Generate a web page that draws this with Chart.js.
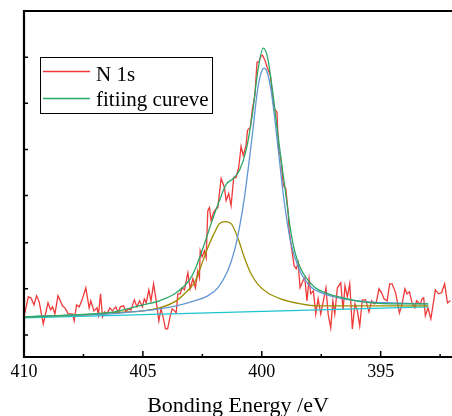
<!DOCTYPE html>
<html>
<head>
<meta charset="utf-8">
<script src="https://cdn.jsdelivr.net/npm/chart.js@4.4.0/dist/chart.umd.min.js"></script>
<style>
  html, body { margin: 0; padding: 0; background: #fff; }
  #wrap { width: 452px; height: 416px; }
</style>
</head>
<body>
<div id="wrap"><canvas id="xpsChart" width="452" height="416"></canvas></div>
<script>
// N 1s raw spectrum (binding energy in eV, intensity in a.u.)
const rawEnergy = [
  410.00, 409.82, 409.71, 409.58, 409.47, 409.36, 409.19, 408.99, 408.88, 408.80,
  408.70, 408.57, 408.38, 408.28, 408.14, 407.96, 407.89, 407.79, 407.68, 407.57,
  407.40, 407.26, 407.19, 407.06, 406.93, 406.87, 406.78, 406.70, 406.60, 406.51,
  406.39, 406.28, 406.14, 406.03, 405.95, 405.81, 405.72, 405.61, 405.50, 405.36,
  405.25, 405.14, 405.02, 404.94, 404.86, 404.75, 404.66, 404.55, 404.44, 404.33,
  404.24, 404.16, 404.05, 403.96, 403.85, 403.77, 403.67, 403.60, 403.53, 403.43,
  403.35, 403.25, 403.11, 403.01, 402.90, 402.79, 402.69, 402.62, 402.59, 402.51,
  402.41, 402.34, 402.27, 402.20, 402.13, 402.03, 401.95, 401.85, 401.71, 401.57,
  401.50, 401.39, 401.29, 401.18, 401.08, 400.97, 400.87, 400.78, 400.66, 400.60,
  400.48, 400.39, 400.29, 400.20, 400.13, 400.03, 399.97, 399.87, 399.76, 399.64,
  399.55, 399.48, 399.36, 399.30, 399.20, 399.09, 398.99, 398.89, 398.85, 398.75,
  398.64, 398.55, 398.47, 398.39, 398.27, 398.19, 398.10, 398.01, 397.94, 397.83,
  397.73, 397.63, 397.52, 397.41, 397.30, 397.21, 397.10, 397.01, 396.93, 396.82,
  396.68, 396.58, 396.50, 396.40, 396.30, 396.19, 396.08, 395.98, 395.88, 395.77,
  395.63, 395.49, 395.38, 395.27, 395.19, 395.07, 394.96, 394.86, 394.73, 394.62,
  394.52, 394.37, 394.21, 394.10, 393.98, 393.89, 393.79, 393.68, 393.56, 393.49,
  393.40, 393.33, 393.26, 393.19, 393.12, 393.01, 392.89, 392.77, 392.70, 392.56,
  392.44, 392.31, 392.19, 392.07
];
const rawCounts = [
  40, 60, 59, 52, 61, 55, 33, 54, 47, 50,
  43, 61, 51, 49, 43, 43, 36, 52, 50, 56,
  69, 49, 56, 46, 49, 42, 63, 40, 45, 43,
  49, 46, 50, 44, 50, 51, 45, 48, 47, 57,
  50, 56, 50, 58, 54, 67, 56, 73, 56, 36,
  48, 41, 28, 28, 41, 48, 46, 44, 63, 63,
  69, 67, 84, 68, 78, 69, 86, 79, 106, 100,
  106, 99, 146, 149, 136, 144, 147, 149, 178, 169,
  156, 163, 151, 179, 179, 189, 210, 201, 211, 226,
  229, 248, 261, 294, 294, 300, 301, 296, 288, 281,
  261, 248, 244, 208, 198, 171, 168, 144, 126, 109,
  91, 88, 94, 69, 76, 79, 56, 78, 63, 66,
  43, 58, 43, 56, 69, 43, 29, 56, 43, 69,
  74, 47, 71, 60, 73, 28, 53, 46, 31, 57,
  57, 45, 56, 53, 54, 68, 64, 58, 56, 73,
  73, 64, 44, 53, 68, 63, 65, 54, 49, 56,
  54, 53, 58, 59, 41, 49, 38, 56, 67, 63,
  64, 73, 54, 56
];

// fitted envelope
const fitEnergy = [410.0, 408.0, 406.2, 405.0, 404.3, 403.6, 403.04, 402.83, 402.41, 402.13,
  401.78, 401.5, 401.2, 400.94, 400.66, 400.39, 400.18, 399.94, 399.76, 399.55,
  399.38, 399.2, 399.01, 398.8, 398.6, 398.36, 397.8, 397.2, 396.57, 396.05, 395.37, 394.5, 393.0];
const fitCounts = [40, 42, 45, 52, 56, 64, 77, 86, 113, 133,
  156, 172, 178, 186, 206, 243, 283, 308, 299, 266,
  233, 199, 166, 128, 104, 88, 70, 63, 59, 56, 54, 53, 53];

// main component (~400 eV)
const peakAEnergy = [410.0, 407.5, 406.4, 405.0, 404.3, 403.6, 402.83, 402.27, 401.85, 401.43,
  401.15, 400.94, 400.73, 400.39, 400.18, 400.03, 399.9, 399.76, 399.61, 399.43,
  399.27, 399.1, 398.78, 398.4, 397.94, 397.38, 396.57, 395.5, 394.5, 393.0];
const peakACounts = [40, 42, 43, 46, 48, 51, 56, 61, 69, 86,
  106, 129, 159, 223, 266, 283, 288, 283, 266, 233,
  199, 163, 114, 86, 70, 63, 58, 55, 54, 53];

// second component (~401.5 eV)
const peakBEnergy = [410.0, 407.5, 406.4, 405.0, 404.3, 403.6, 403.04, 402.83, 402.55, 402.27,
  401.99, 401.78, 401.54, 401.29, 401.01, 400.73, 400.45, 400.18, 399.76, 399.2,
  398.36, 397.63, 395.5, 393.0];
const peakBCounts = [40, 42, 44, 46, 49, 56, 68, 74, 91, 109,
  124, 133, 135, 133, 119, 99, 83, 73, 64, 58,
  53, 51, 51, 51];

// linear background
const baseEnergy = [410.0, 393.0];
const baseCounts = [39, 50];

const xTickValues = [410, 405, 400, 395];
const xMinorValues = [407.5, 402.5, 397.5, 392.5];
const yTickValues = [22, 68, 114, 161, 207, 253, 299];
const legendLabels = ["N 1s", "fitiing cureve"];
const axisTitle = "Bonding Energy /eV";

const RED = "#ef3a3a";
const GREEN = "#2aa866";
const BLUE = "#6196d4";
const OLIVE = "#9a8e00";
const CYAN = "#1cc5cf";
const SERIF = "'Liberation Serif', 'Times New Roman', serif";

function toPoints(xs, ys) {
  return xs.map((x, i) => ({ x, y: ys[i] }));
}

const framePlugin = {
  id: "frame",
  afterDatasetsDraw(chart) {
    const { ctx, chartArea: a, scales: { x, y } } = chart;
    ctx.save();
    ctx.strokeStyle = "#000";
    ctx.lineWidth = 2.2;
    ctx.beginPath();
    ctx.moveTo(a.right + 2, a.top);
    ctx.lineTo(a.left, a.top);
    ctx.lineTo(a.left, a.bottom);
    ctx.lineTo(a.right + 2, a.bottom);
    ctx.stroke();

    ctx.lineWidth = 1.5;
    ctx.beginPath();
    xTickValues.forEach((v) => {
      const px = x.getPixelForValue(v);
      ctx.moveTo(px, a.bottom);
      ctx.lineTo(px, a.bottom - 6);
    });
    xMinorValues.forEach((v) => {
      const px = x.getPixelForValue(v);
      ctx.moveTo(px, a.bottom);
      ctx.lineTo(px, a.bottom - 3);
    });
    yTickValues.forEach((v) => {
      const py = y.getPixelForValue(v);
      ctx.moveTo(a.left, py);
      ctx.lineTo(a.left + 4, py);
    });
    ctx.stroke();

    // legend box
    ctx.fillStyle = "#fff";
    ctx.fillRect(40.5, 57.5, 172, 56);
    ctx.lineWidth = 1;
    ctx.strokeRect(40.5, 57.5, 172, 56);
    const rows = [{ color: RED, y: 71.5, base: 80.5 }, { color: GREEN, y: 98.5, base: 106 }];
    ctx.font = "21px " + SERIF;
    ctx.textBaseline = "alphabetic";
    rows.forEach((row, i) => {
      ctx.strokeStyle = row.color;
      ctx.lineWidth = 1.3;
      ctx.beginPath();
      ctx.moveTo(43, row.y);
      ctx.lineTo(90, row.y);
      ctx.stroke();
      ctx.fillStyle = "#000";
      ctx.fillText(legendLabels[i], 96, row.base);
    });
    ctx.restore();
  }
};

const fitStyle = {
  borderWidth: 1.3,
  pointRadius: 0,
  fill: false,
  cubicInterpolationMode: "monotone"
};

new Chart(document.getElementById("xpsChart").getContext("2d"), {
  type: "line",
  data: {
    datasets: [
      { ...fitStyle, label: "fitiing cureve", data: toPoints(fitEnergy, fitCounts), borderColor: GREEN },
      { ...fitStyle, label: "peak 400.0", data: toPoints(peakAEnergy, peakACounts), borderColor: BLUE },
      { ...fitStyle, label: "peak 401.5", data: toPoints(peakBEnergy, peakBCounts), borderColor: OLIVE },
      { ...fitStyle, label: "background", data: toPoints(baseEnergy, baseCounts), borderColor: CYAN },
      { label: "N 1s", data: toPoints(rawEnergy, rawCounts), borderColor: RED, borderWidth: 1.3, pointRadius: 0, tension: 0, fill: false }
    ]
  },
  options: {
    responsive: false,
    animation: false,
    devicePixelRatio: 1,
    layout: { autoPadding: false, padding: { left: 24, top: 11, right: 0, bottom: 0 } },
    plugins: { legend: { display: false }, tooltip: { enabled: false } },
    scales: {
      x: {
        type: "linear",
        reverse: true,
        min: 392,
        max: 410,
        afterBuildTicks: (scale) => { scale.ticks = xTickValues.map((value) => ({ value })); },
        grid: { display: false, drawTicks: false, tickLength: 0 },
        border: { display: false },
        ticks: { color: "#000", padding: 4, maxRotation: 0, font: { family: SERIF, size: 18 } },
        title: { display: true, text: axisTitle, color: "#000", padding: { top: 6, bottom: -3 }, font: { family: SERIF, size: 22 } }
      },
      y: {
        display: false,
        min: 0,
        max: 345
      }
    }
  },
  plugins: [framePlugin]
});
</script>
</body>
</html>
